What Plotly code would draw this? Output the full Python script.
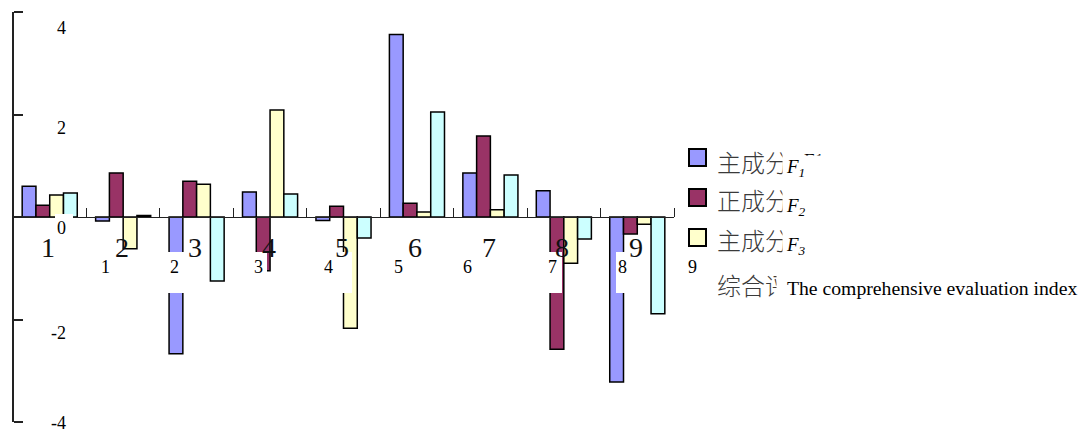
import plotly.graph_objects as go

# ---------------- data ----------------
categories = ["1", "2", "3", "4", "5", "6", "7", "8", "9"]
f1 = [0.60, -0.08, -2.67, 0.49, -0.07, 3.56, 0.86, 0.51, -3.22]
f2 = [0.23, 0.86, 0.70, -1.05, 0.21, 0.27, 1.58, -2.58, -0.33]
f3 = [0.43, -0.62, 0.64, 2.09, -2.17, 0.10, 0.14, -0.90, -0.14]
comp = [0.47, 0.03, -1.25, 0.45, -0.41, 2.05, 0.82, -0.43, -1.89]
series_cn = ["主成分", "正成分", "主成分", "综合评价指数"]
series_sub = ["<i>F<sub>1</sub></i>", "<i>F<sub>2</sub></i>", "<i>F<sub>3</sub></i>", ""]
series_en = ["", "", "", "The comprehensive evaluation index"]
y_tick_vals = [4, 2, 0, -2, -4]
y_tick_text = ["4", "2", "0", "-2", "-4"]
small_labels = ["1", "2", "3", "4", "5", "6", "7", "8", "9"]

# ---------------- styles / layout ----------------
colors = ["#9999FF", "#993366", "#FFFFCC", "#CCFFFF"]
W, H = 1090, 432
L, R, T, B = 13, 674, 12, 422
SERIF = "Liberation Serif"
CJK = "Noto Sans CJK SC"
AX = "#222222"


def px(x):
    return (x - L) / (R - L)


def py(y):
    return (B - y) / (B - T)


fig = go.Figure()
xs = list(range(1, len(categories) + 1))
for vals, col, name in zip([f1, f2, f3, comp], colors, series_cn):
    fig.add_trace(go.Bar(x=xs, y=vals, name=name, marker=dict(color=col, line=dict(color="black", width=1.5)),
                         showlegend=False))

annotations = []
shapes = []

# white label boxes (drawn above bars)
box_px = [(55, 73, 214, 252), (98, 128, 252, 293), (168, 204, 252, 293), (247, 267, 252, 293),
          (320, 352, 252, 293), (390, 410, 252, 293), (460, 480, 252, 293), (545, 562, 252, 293),
          (616, 640, 252, 293), (685, 703, 252, 293)]
for x0, x1, y0, y1 in box_px:
    shapes.append(dict(type="rect", xref="paper", yref="paper", x0=px(x0), x1=px(x1), y0=py(y1), y1=py(y0),
                       fillcolor="white", line=dict(width=0), layer="above"))

# y tick labels (offset as in the reference)
ylab_py = [28, 128, 228, 333, 423]
for t, yy in zip(y_tick_text, ylab_py):
    annotations.append(dict(text=t, xref="paper", yref="paper", x=px(68), y=py(yy), xanchor="right",
                            yanchor="middle", showarrow=False, font=dict(family=SERIF, size=18, color="black")))

# big category labels
for xv, c in zip(xs, categories):
    annotations.append(dict(text=c, xref="x", yref="paper", x=xv, y=py(247), xshift=-1.5, xanchor="center",
                            yanchor="middle", showarrow=False, font=dict(family=SERIF, size=28, color="#111111")))

# small labels
small_px = [105, 174, 258, 328, 398, 468, 552, 622, 692]
for s, xx in zip(small_labels, small_px):
    annotations.append(dict(text=s, xref="paper", yref="paper", x=px(xx), y=py(267), xanchor="center",
                            yanchor="middle", showarrow=False, font=dict(family=SERIF, size=18, color="black")))

# legend rows
sq_py = [157.5, 197.5, 237.5]
txt_py = [161, 200, 239, 285]
sub_py = [168, 207, 246]
for i in range(3):
    annotations.append(dict(text=" ", xref="paper", yref="paper", x=px(698), y=py(sq_py[i]), xanchor="center",
                            yanchor="middle", showarrow=False, width=15, height=15, bgcolor=colors[i],
                            bordercolor="black", borderwidth=2, borderpad=0, font=dict(size=8)))
for i in range(4):
    annotations.append(dict(text=series_cn[i], xref="paper", yref="paper", x=px(715), y=py(txt_py[i]),
                            xanchor="left", yanchor="middle", showarrow=False,
                            font=dict(family=CJK, size=24, color="#3a3a3a", weight=300)))
# clipped upright "F1" above row 1
annotations.append(dict(text="F1", xref="paper", yref="paper", x=px(802), y=py(160), xanchor="left",
                        yanchor="middle", showarrow=False, font=dict(family=SERIF, size=19, color="black")))
# white covers that clip the legend texts
cover_px = [(782, 800, 140, 185), (800, 850, 155, 185), (782, 850, 185, 222), (782, 850, 222, 262),
            (776, 1090, 268, 305)]
for x0, x1, y0, y1 in cover_px:
    annotations.append(dict(text=" ", xref="paper", yref="paper", x=px(x0), y=py(y0), xanchor="left",
                            yanchor="top", showarrow=False, width=x1 - x0, height=y1 - y0, bgcolor="white",
                            borderpad=0, font=dict(size=8)))
for i in range(3):
    annotations.append(dict(text=series_sub[i], xref="paper", yref="paper", x=px(784), y=py(sub_py[i]),
                            xanchor="left", yanchor="middle", showarrow=False,
                            font=dict(family=SERIF, size=19, color="black")))
annotations.append(dict(text=series_en[3], xref="paper", yref="paper", x=px(785), y=py(288), xanchor="left",
                        yanchor="middle", showarrow=False, font=dict(family=SERIF, size=19.7, color="black")))

fig.update_layout(
    width=W, height=H,
    margin=dict(l=L, r=W - R, t=T, b=H - B, pad=0),
    plot_bgcolor="white", paper_bgcolor="white",
    barmode="group", bargap=0.25, bargroupgap=0,
    font=dict(family=SERIF, size=18, color="black"),
    showlegend=False,
    xaxis=dict(range=[0.5, len(categories) + 0.5], anchor="free", position=0.5, side="top",
               tickvals=[i + 0.5 for i in range(len(categories) + 1)], ticks="outside", ticklen=9,
               tickcolor=AX, tickwidth=1.2, showline=True, linecolor=AX, linewidth=1.2,
               showticklabels=False, showgrid=False, zeroline=False, fixedrange=True),
    yaxis=dict(range=[-4, 4], anchor="free", position=0, side="right",
               tickvals=y_tick_vals, ticks="outside", ticklen=9, tickcolor=AX, tickwidth=1.5,
               showline=True, linecolor=AX, linewidth=1.5, showticklabels=False, showgrid=False,
               zeroline=False, fixedrange=True),
    annotations=annotations,
    shapes=shapes,
)

fig.write_html("out.html", config={"displayModeBar": False})
